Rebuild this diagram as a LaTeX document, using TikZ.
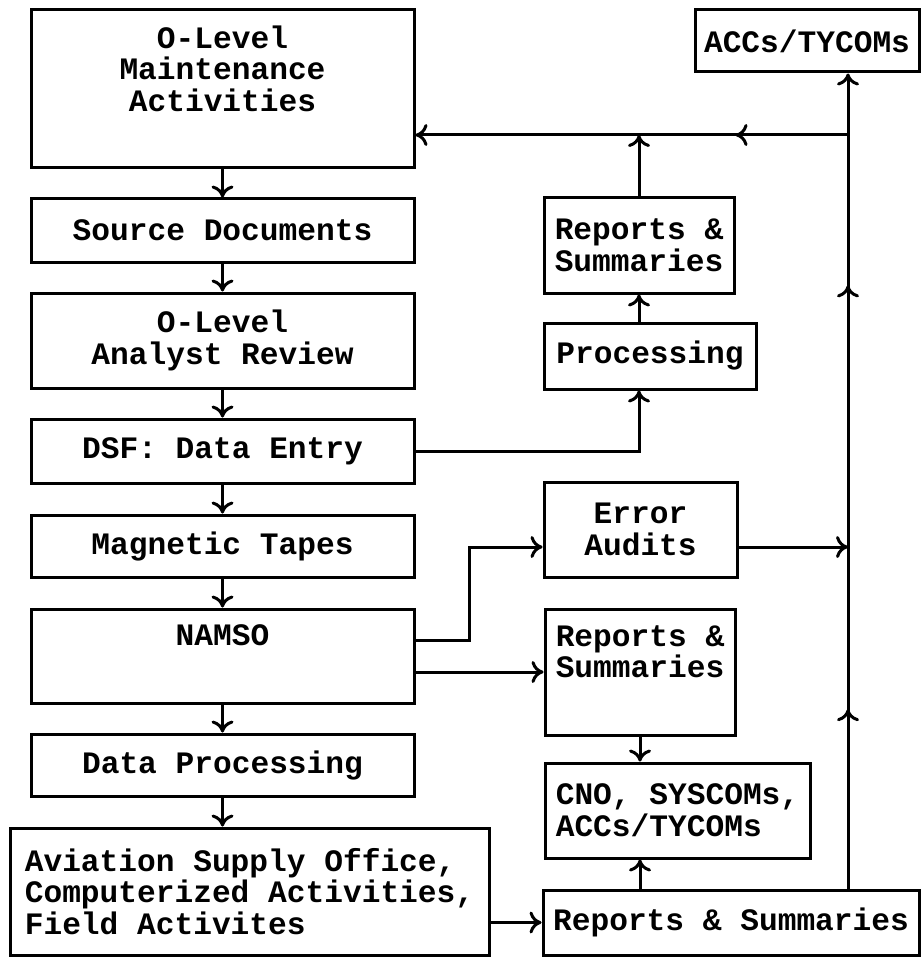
\documentclass[tikz,border=0pt]{standalone}
\usepackage{fontspec}
\setmonofont{Liberation Mono}
\usetikzlibrary{arrows.meta,decorations.markings}
\tikzset{
  box/.style={draw, line width=1.5pt, align=center, inner sep=0pt,
    font=\ttfamily\bfseries\fontsize{15.6}{15.8}\selectfont},
  leftbox/.style={box, align=left},
  flow/.style={line width=1.5pt, -{To[length=6pt,width=11pt]}},
  midarrow/.style={postaction={decorate,decoration={markings,
    mark=at position #1 with {\arrow{To[length=6pt,width=11pt]}}}}}
}
\begin{document}
\begin{tikzpicture}[x=0.5pt,y=-0.5pt]
\useasboundingbox (0,0) rectangle (921,957);
% left column
\node[box, minimum width=191.5pt, minimum height=79pt] (olev) at (222.5,89) {O-Level\\Maintenance\\Activities\\\strut};
\node[box, minimum width=191.5pt, minimum height=31.5pt] (srcdoc) at (222.5,230.5) {Source Documents};
\node[box, minimum width=191.5pt, minimum height=47.5pt] (analyst) at (222.5,340.5) {O-Level\\Analyst Review};
\node[box, minimum width=191.5pt, minimum height=32pt] (dsf) at (222.5,451) {DSF: Data Entry};
\node[box, minimum width=191.5pt, minimum height=31pt] (magtape) at (222.5,546) {Magnetic Tapes};
\node[box, minimum width=191.5pt, minimum height=47pt] (namso) at (222.5,656) {NAMSO\\\strut};
\node[box, minimum width=191.5pt, minimum height=31pt] (dataproc) at (222.5,765) {Data Processing};
\node[leftbox, minimum width=239.5pt, minimum height=63.5pt] (aviation) at (249.5,891.5) {Aviation Supply Office,\\Computerized Activities,\\Field Activites};
% right column
\node[box, minimum width=112pt, minimum height=31pt] (accs) at (807,41) {ACCs/TYCOMs};
\node[box, minimum width=95pt, minimum height=47.5pt] (reptop) at (639,245.5) {Reports \&\\Summaries};
\node[box, minimum width=106pt, minimum height=33pt] (proc) at (650,356) {Processing};
\node[box, minimum width=96.5pt, minimum height=47.5pt] (erraud) at (640.5,529.5) {Error\\Audits};
\node[box, minimum width=95pt, minimum height=63pt] (repmid) at (640,672) {Reports \&\\Summaries\\\strut};
\node[leftbox, minimum width=132.5pt, minimum height=47.5pt] (cno) at (677.5,810.5) {CNO, SYSCOMs,\\ACCs/TYCOMs};
\node[leftbox, minimum width=188pt, minimum height=32.5pt] (repbot) at (731,922.5) {Reports \& Summaries};

\coordinate (junc) at (848,135);
\foreach \a/\b in {olev/srcdoc,srcdoc/analyst,analyst/dsf,dsf/magtape,magtape/namso,namso/dataproc,dataproc/aviation}
  \draw[flow] (\a.south) -- (\b.north -| \a.south);

\draw[flow] (dsf.east) -| (reptop |- proc.south);
\draw[flow] (reptop |- proc.north) -- (reptop.south);
\draw[flow] (reptop.north) -- (reptop |- junc);
\draw[flow, midarrow=0.22, midarrow=0.74] (repbot.north -| junc) -- (accs.south -| junc);
\draw[flow, midarrow=0.26] (junc) -- (olev.east |- junc);

\draw[flow] ([yshift=8pt]namso.east) -- ++(27pt,0) |- ([yshift=-8.75pt]erraud.west);
\draw[flow] ([yshift=-8.75pt]erraud.east) -- ([yshift=-8.75pt]erraud.east -| junc);
\draw[flow] (namso.east |- repmid) -- (repmid.west);
\draw[flow] (repmid.south) -- (cno.north -| repmid.south);
\draw[flow] (repbot.north -| repmid) -- (cno.south -| repmid);
\draw[flow] (aviation.east |- repbot) -- (repbot.west);
\end{tikzpicture}
\end{document}
